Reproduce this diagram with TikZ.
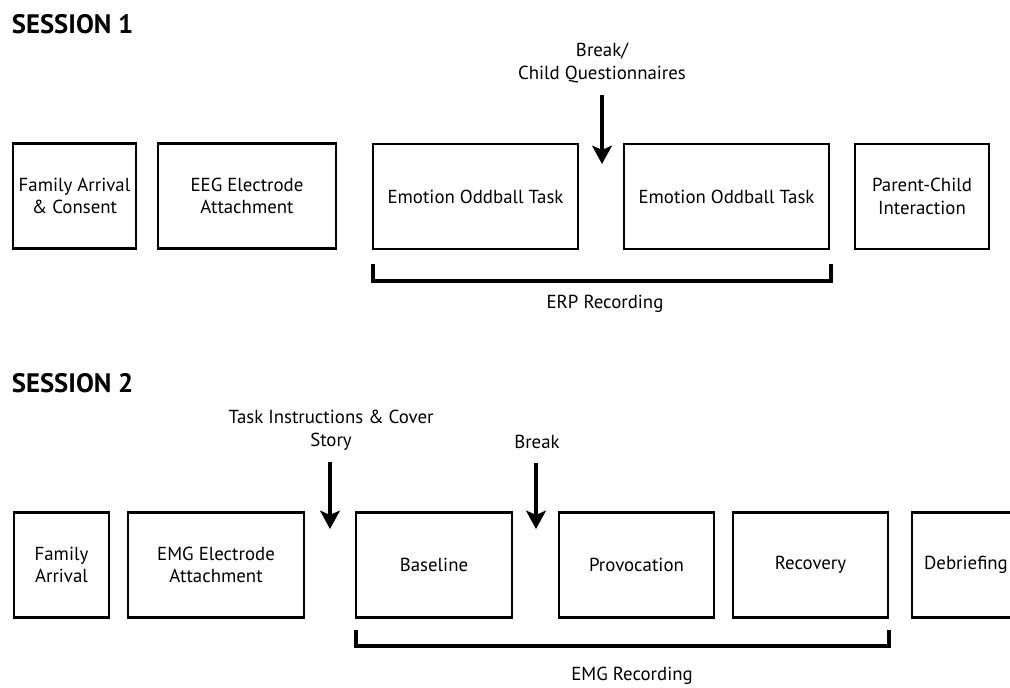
\documentclass[tikz,border=0pt]{standalone}
\usepackage{fontspec}
\setmainfont{PT Sans}
\usetikzlibrary{positioning}
\usetikzlibrary{arrows.meta}
\newdimen\pxu
\pxu=0.025cm
\tikzset{
    every picture/.style={>={Stealth[length=13pt,width=14pt,inset=3pt]}},
    stage/.style={draw,line width=1.8pt,align=center,font=\fontsize{13.4}{16}\selectfont,
        minimum height=105\pxu,minimum width=#1\pxu,inner sep=0pt},
    title/.style={anchor=west,font=\fontsize{19}{22}\selectfont\bfseries},
    note/.style={align=center,font=\fontsize{13.4}{16}\selectfont,inner sep=0pt},
    brk/.style={->,line width=2.8pt},
    bracket/.style={line width=2.8pt},
}

\begin{document}
\begin{tikzpicture}[x=\pxu,y=-\pxu]
\clip (0,0) rectangle (1010,688);

% session 1
\node[title] (s1) at (7,24) {SESSION 1};

\node[stage=123] (fam1) at (74.5,196) {Family Arrival\\\& Consent};
\node[stage=178] (eeg)  at (247,196)  {EEG Electrode\\Attachment};
\node[stage=205] (odd1) at (475.5,196.5) {Emotion Oddball Task};
\node[stage=205] (odd2) at (726.5,196.5) {Emotion Oddball Task};
\node[stage=134] (pci)  at (922,196.5)  {Parent-Child\\Interaction};

\node[note] (q1) at (602,63) {Break/\\Child Questionnaires};
\coordinate (q1s) at (602,95);
\coordinate (q1e) at (602,164);
\draw[brk] (q1s) -- (q1e);

\draw[bracket] (373,264) |- (831,281) -- (831,264);
\node[note] (erp) at (605,304) {ERP Recording};

% session 2
\node[title] (s2) at (7,383) {SESSION 2};

\node[stage=95]  (fam2) at (61.5,565) {Family\\Arrival};
\node[stage=176] (emg)  at (216,565)  {EMG Electrode\\Attachment};
\node[stage=156] (base) at (434,565)  {Baseline};
\node[stage=155] (prov) at (636.5,565) {Provocation};
\node[stage=155] (reco) at (810.5,565) {Recovery};
\node[stage=108] (debr) at (966,565)  {Debriefing};

\node[note] (ti) at (331,430) {Task Instructions \& Cover\\Story};
\coordinate (tis) at (330,462);
\coordinate (tie) at (330,529);
\draw[brk] (tis) -- (tie);

\node[note] (b2) at (537,442) {Break};
\coordinate (b2s) at (536,463);
\coordinate (b2e) at (536,529);
\draw[brk] (b2s) -- (b2e);

\draw[bracket] (356,630) |- (889,646) -- (889,630);
\node[note] (emgr) at (632,676) {EMG Recording};

\end{tikzpicture}
\end{document}
